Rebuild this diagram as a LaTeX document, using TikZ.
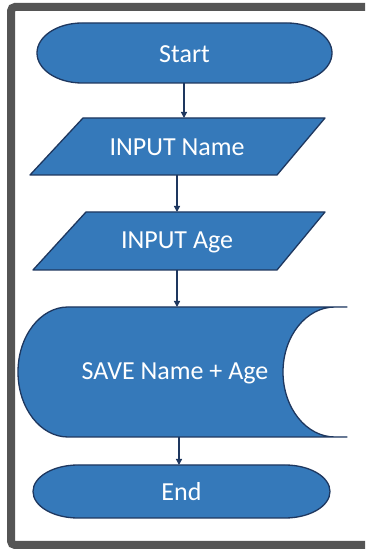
\documentclass[tikz,border=0pt]{standalone}
\usepackage{fontspec}
\setmainfont{Carlito}
\usetikzlibrary{arrows.meta}
\definecolor{fillblue}{RGB}{53,121,186}
\definecolor{edgeblue}{RGB}{30,55,95}
\definecolor{framegray}{RGB}{85,85,85}
\tikzset{
  shapebox/.style={fill=fillblue, draw=edgeblue, line width=1.3pt, line join=round},
  txt/.style={text=white, font=\fontsize{26}{29}\selectfont, inner sep=0pt},
  arr/.style={draw=edgeblue, line width=1.3pt, -{Triangle[length=6pt,width=6pt]}},
}
\begin{document}
\begin{tikzpicture}[x=1pt,y=1pt]
\path[fill=white] (0,0) rectangle (365,549);
% frame (open on the right)
\draw[framegray, line width=8pt, rounded corners=4pt, line cap=butt] (365,4) -- (11,4) -- (11,542) -- (365,542);
% Start terminator
\path[shapebox] (82,526) -- (287,526) arc[start angle=90, end angle=-90, x radius=45, y radius=30] -- (82,466) arc[start angle=270, end angle=90, x radius=45, y radius=30] -- cycle;
\node[txt] (start) at (184.5,495) {Start};
\coordinate (startS) at (184,466);
% INPUT Name
\path[shapebox] (83,431) -- (325,431) -- (277,374) -- (30,374) -- cycle;
\node[txt] (name) at (177,402) {INPUT Name};
\coordinate (nameN) at (184,431);
\coordinate (nameS) at (177,374);
% INPUT Age
\path[shapebox] (86,337) -- (325,337) -- (277,279) -- (33,279) -- cycle;
\node[txt] (age) at (177,307) {INPUT Age};
\coordinate (ageN) at (177,337);
\coordinate (ageS) at (177,279);
% SAVE stored data
\path[shapebox] (68,242) -- (347,242) -- (335,242) arc[start angle=90, end angle=270, x radius=52, y radius=65] -- (347,112) -- (68,112) arc[start angle=270, end angle=90, x radius=50, y radius=65] -- cycle;
\node[txt] (save) at (175,176) {SAVE Name + Age};
\coordinate (saveN) at (177,242);
\coordinate (saveS) at (179,112);
% End terminator
\path[shapebox] (78,84) -- (285,84) arc[start angle=90, end angle=-90, x radius=45, y radius=26.5] -- (78,31) arc[start angle=270, end angle=90, x radius=45, y radius=26.5] -- cycle;
\node[txt] (end) at (181.5,57) {End};
\coordinate (endN) at (179,84);
% connectors
\draw[arr] (startS) -- (nameN);
\draw[arr] (nameS) -- (ageN);
\draw[arr] (ageS) -- (saveN);
\draw[arr] (saveS) -- (endN);
\useasboundingbox (0,0) rectangle (365,549);
\end{tikzpicture}
\end{document}
